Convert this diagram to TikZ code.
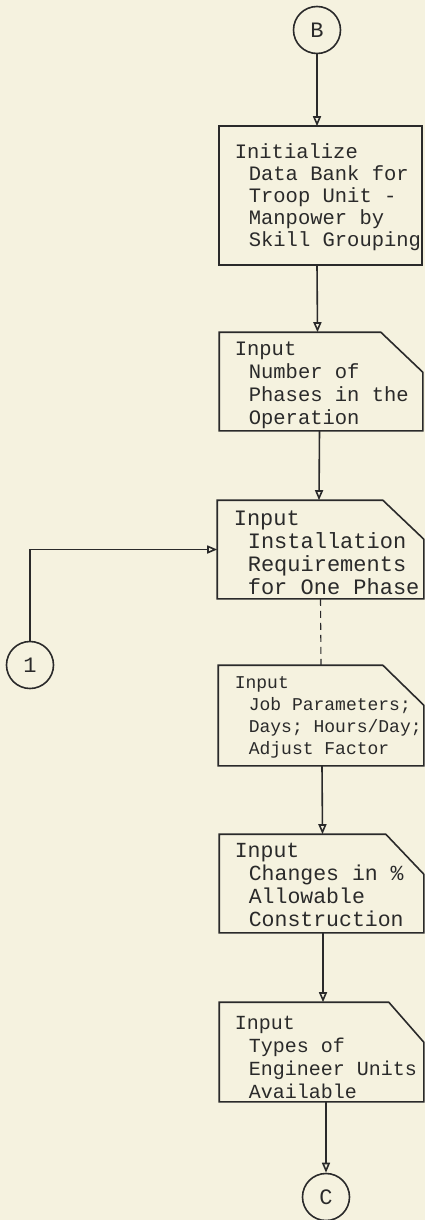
\documentclass[tikz,border=0pt]{standalone}
\usepackage{fontspec}
\newfontfamily\tw{Liberation Mono}
\usetikzlibrary{arrows.meta,calc}
\definecolor{paper}{HTML}{F5F2DF}
\definecolor{ink}{HTML}{2A2A2A}
\begin{document}
\begin{tikzpicture}[x=1pt,y=-1pt,
  line width=1.6pt, color=ink,
  boxn/.style={rectangle, inner sep=0pt, draw=none},
  boxline/.style={draw=ink, line width=1.6pt, line join=miter},
  conn/.style={circle, draw=ink, line width=1.6pt, minimum size=47pt, inner sep=0pt, font=\tw\fontsize{22}{22}\selectfont},
  arr/.style={draw=ink, line width=1.6pt, -{Triangle[open,length=10pt,width=8pt]}},
  ln/.style={anchor=base west, inner sep=0pt, text=ink}
]
\fill[paper] (0,0) rectangle (425,1220);
\useasboundingbox (0,0) rectangle (425,1220);

% connectors (circles)
\node[conn] (cB) at (317,30) {B};
\node[conn] (c1) at (30,665) {1};
\node[conn] (cC) at (326,1197) {C};

% box 1 (process)
\node[boxn, minimum width=201pt, minimum height=137pt] (b1) at (320.5,195.5) {};
\draw[boxline] (b1.north west) rectangle (b1.south east);
\foreach \s [count=\i] in {Initialize, Data Bank for, Troop Unit -, Manpower by, Skill Grouping}
  \node[ln, font=\tw\fontsize{20.5}{22}\selectfont] (t1-\i) at ({248-14*(\i==1)}, {136+22*\i}) {\s};

% box 2 (input)
\node[boxn, minimum width=202pt, minimum height=97pt] (b2) at (321,381.5) {};
\draw[boxline] (b2.north west) -- ([xshift=-42pt]b2.north east) -- ([yshift=-40pt]b2.north east) -- (b2.south east) -- (b2.south west) -- cycle;
\foreach \s [count=\i] in {Input, Number of, Phases in the, Operation}
  \node[ln, font=\tw\fontsize{20.5}{22}\selectfont] (t2-\i) at ({248-14*(\i==1)}, {332+23*\i}) {\s};

% box 3 (input)
\node[boxn, minimum width=205pt, minimum height=97pt] (b3) at (320.5,549.5) {};
\draw[boxline] (b3.north west) -- ([xshift=-41pt]b3.north east) -- ([yshift=-39pt]b3.north east) -- (b3.south east) -- (b3.south west) -- cycle;
\foreach \s [count=\i] in {Input, Installation, Requirements, for One Phase}
  \node[ln, font=\tw\fontsize{22}{22}\selectfont] (t3-\i) at ({247-14*(\i==1)}, {502+23*\i}) {\s};

% box 4 (input)
\node[boxn, minimum width=204pt, minimum height=99pt] (b4) at (321,715.5) {};
\draw[boxline] (b4.north west) -- ([xshift=-41pt]b4.north east) -- ([yshift=-40pt]b4.north east) -- (b4.south east) -- (b4.south west) -- cycle;
\foreach \s [count=\i] in {Input, Job Parameters;, Days; Hours/Day;, Adjust Factor}
  \node[ln, font=\tw\fontsize{18}{22}\selectfont] (t4-\i) at ({248-14*(\i==1)}, {666+22*\i}) {\s};

% box 5 (input)
\node[boxn, minimum width=203pt, minimum height=97pt] (b5) at (321.5,883.5) {};
\draw[boxline] (b5.north west) -- ([xshift=-38pt]b5.north east) -- ([yshift=-40pt]b5.north east) -- (b5.south east) -- (b5.south west) -- cycle;
\foreach \s [count=\i] in {Input, Changes in \%, Allowable, Construction}
  \node[ln, font=\tw\fontsize{21.5}{22}\selectfont] (t5-\i) at ({248-14*(\i==1)}, {834+23*\i}) {\s};

% box 6 (input)
\node[boxn, minimum width=203pt, minimum height=98pt] (b6) at (321.5,1052) {};
\draw[boxline] (b6.north west) -- ([xshift=-35pt]b6.north east) -- ([yshift=-40pt]b6.north east) -- (b6.south east) -- (b6.south west) -- cycle;
\foreach \s [count=\i] in {Input, Types of, Engineer Units, Available}
  \node[ln, font=\tw\fontsize{20}{22}\selectfont] (t6-\i) at ({248-14*(\i==1)}, {1006+23*\i}) {\s};

% flow lines
\draw[arr] (cB) -- (cB |- b1.north);
\draw[arr] ([xshift=-3.5pt]b1.south) -- ([xshift=-3.5pt]b2.north);
\draw[arr] ([xshift=-1.5pt]b2.south) -- ([xshift=-1.5pt]b3.north);
\draw[arr] (c1) |- (b3.west);
\draw[draw=ink, line width=1.1pt, dash pattern=on 7pt off 5pt] (b3.south) -- (b4.north);
\draw[arr] ([xshift=1pt]b4.south) -- ([xshift=1pt]b5.north);
\draw[arr] ([xshift=1.5pt]b5.south) -- ([xshift=1.5pt]b6.north);
\draw[arr] (cC |- b6.south) -- (cC);
\end{tikzpicture}
\end{document}
